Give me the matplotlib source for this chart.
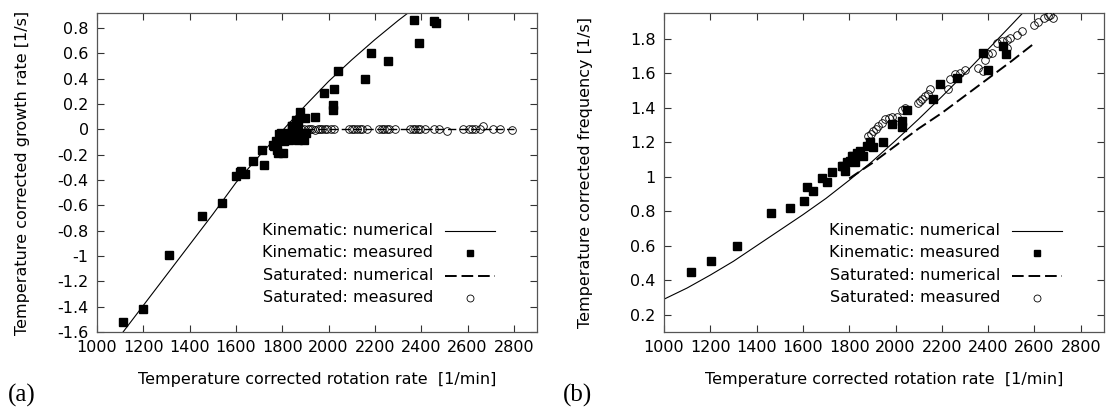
import matplotlib
matplotlib.use("Agg")
import matplotlib.pyplot as plt
import matplotlib.lines as mlines
from matplotlib.ticker import FuncFormatter

plt.rcParams['font.family'] = ['DejaVu Sans']
plt.rcParams['axes.unicode_minus'] = False

# ---------- (a) growth rate ----------
kin_a_num_rpm = [1100, 1200, 1300, 1400, 1500, 1600, 1700, 1800, 1900, 2000, 2100, 2200, 2300, 2400]
kin_a_num_rate = [-1.63, -1.39, -1.15, -0.91, -0.67, -0.42, -0.21, -0.01, 0.19, 0.38, 0.55, 0.71, 0.86, 1.00]

kin_a_rpm = [1110, 1199, 1310, 1455, 1539, 1598, 1618, 1641, 1622, 1672, 1712, 1722, 1758, 1773,
             1775, 1787, 1801, 1794, 1815, 1808, 1837, 1830, 1858, 1851, 1840, 1866, 1880, 1894,
             1901, 1844, 1859, 1876, 1897, 1942, 1980, 2023, 2019, 2019, 2041, 2155, 2184, 2256,
             2370, 2392, 2456, 2464, 1765, 1780, 1823, 1866]
kin_a_rate = [-1.52, -1.42, -0.99, -0.68, -0.58, -0.37, -0.34, -0.355, -0.33, -0.25, -0.165, -0.28,
              -0.12, -0.094, -0.16, -0.04, -0.186, -0.03, -0.055, -0.094, -0.04, -0.08, -0.07, 0.0,
              0.03, 0.045, -0.03, -0.08, -0.03, 0.024, 0.071, 0.141, 0.094, 0.097, 0.285, 0.316,
              0.194, 0.154, 0.46, 0.40, 0.60, 0.54, 0.868, 0.685, 0.855, 0.84, -0.13, -0.186,
              -0.03, -0.08]

sat_a_num_rpm = [1850, 2800]
sat_a_num_rate = [0.0, 0.0]

sat_a_rpm = [1866, 1880, 1895, 1909, 1920, 1930, 1941, 1952, 1962, 1973, 1984, 1995, 2010, 2023,
             2088, 2100, 2109, 2124, 2135, 2145, 2167, 2217, 2230, 2238, 2250, 2260, 2288, 2353,
             2365, 2375, 2386, 2396, 2417, 2453, 2475, 2511, 2582, 2604, 2620, 2633, 2654, 2668,
             2711, 2740, 2790]
sat_a_rate = [0.0, 0.005, 0.0, 0.0, 0.005, 0.0, -0.005, 0.0, 0.0, 0.005, 0.0, 0.0, 0.0, 0.0,
              0.0, 0.005, 0.0, 0.0, 0.0, 0.005, 0.0, 0.0, 0.005, 0.0, 0.0, 0.0, 0.0, 0.0,
              0.005, 0.0, 0.0, 0.0, 0.0, 0.005, 0.0, -0.01, 0.0, 0.0, 0.0, 0.005, 0.0, 0.03,
              0.0, 0.0, -0.005]

# ---------- (b) frequency ----------
kin_b_num_rpm = [1000, 1100, 1200, 1300, 1400, 1500, 1600, 1700, 1800, 1900, 2000, 2100, 2200,
                 2300, 2400, 2500, 2560]
kin_b_num_freq = [0.29, 0.355, 0.43, 0.51, 0.60, 0.69, 0.78, 0.875, 0.98, 1.09, 1.21, 1.335, 1.465,
                  1.60, 1.74, 1.88, 1.965]

sat_b_num_rpm = [1800, 1900, 2000, 2100, 2200, 2300, 2400, 2500, 2600]
sat_b_num_freq = [0.99, 1.08, 1.18, 1.28, 1.37, 1.47, 1.57, 1.67, 1.775]

kin_b_rpm = [1115, 1203, 1314, 1461, 1544, 1605, 1617, 1645, 1681, 1703, 1724, 1768, 1775, 1782,
             1789, 1804, 1811, 1818, 1825, 1833, 1847, 1861, 1876, 1890, 1904, 1947, 1984, 2027,
             2027, 2048, 2163, 2192, 2264, 2377, 2401, 2466, 2476]
kin_b_freq = [0.45, 0.512, 0.598, 0.79, 0.82, 0.86, 0.94, 0.915, 0.994, 0.97, 1.03, 1.065, 1.065,
              1.036, 1.085, 1.094, 1.12, 1.123, 1.085, 1.14, 1.152, 1.123, 1.18, 1.2, 1.17, 1.2,
              1.305, 1.286, 1.325, 1.39, 1.453, 1.536, 1.575, 1.715, 1.62, 1.757, 1.71]

sat_b_rpm = [1883, 1895, 1904, 1915, 1926, 1940, 1955, 1970, 1984, 2005, 2027, 2041, 2099, 2106,
             2113, 2128, 2142, 2149, 2228, 2236, 2257, 2279, 2300, 2357, 2378, 2386, 2401, 2415,
             2437, 2459, 2480, 2480, 2495, 2523, 2545, 2596, 2617, 2639, 2660, 2668, 2682]
sat_b_freq = [1.238, 1.25, 1.267, 1.28, 1.296, 1.31, 1.334, 1.34, 1.344, 1.344, 1.39, 1.40, 1.43,
              1.44, 1.45, 1.47, 1.478, 1.507, 1.507, 1.565, 1.594, 1.603, 1.622, 1.632, 1.613,
              1.68, 1.71, 1.72, 1.776, 1.785, 1.795, 1.747, 1.805, 1.823, 1.843, 1.88, 1.90,
              1.92, 1.93, 1.94, 1.92]

x_ticks = [1000, 1200, 1400, 1600, 1800, 2000, 2200, 2400, 2600, 2800]
ya_ticks = [-1.6, -1.4, -1.2, -1.0, -0.8, -0.6, -0.4, -0.2, 0.0, 0.2, 0.4, 0.6, 0.8]
yb_ticks = [0.2, 0.4, 0.6, 0.8, 1.0, 1.2, 1.4, 1.6, 1.8]

legend_labels = ["Kinematic: numerical", "Kinematic: measured",
                 "Saturated: numerical", "Saturated: measured"]

fs = 11.5
fig = plt.figure(figsize=(11.14, 4.09), dpi=100)
ax_a = fig.add_axes([0.0871, 0.1883, 0.395, 0.780])
ax_b = fig.add_axes([0.596, 0.1883, 0.395, 0.780])

dash = (6, 2.5)


def style_axes(ax, yticks, ylim, ylabel, ylab_x):
    ax.set_xlim(1000, 2900)
    ax.set_ylim(*ylim)
    ax.set_xticks(x_ticks)
    ax.set_yticks(yticks)
    ax.yaxis.set_major_formatter(FuncFormatter(lambda v, p: "%g" % round(v, 2)))
    ax.tick_params(direction='in', top=True, right=True, length=5, width=0.8,
                   labelsize=fs, colors='#333333', labelcolor='black', pad=6)
    for s in ax.spines.values():
        s.set_color('#555555')
        s.set_linewidth(0.9)
    ax.set_xlabel("Temperature corrected rotation rate  [1/min]", fontsize=fs)
    ax.xaxis.set_label_coords(0.5, -0.125)
    ax.set_ylabel(ylabel, fontsize=fs)
    ax.yaxis.set_label_coords(ylab_x, 0.5)


def draw_legend(ax):
    rows = [0.317, 0.248, 0.176, 0.107]
    for lab, y in zip(legend_labels, rows):
        ax.text(0.764, y, lab, transform=ax.transAxes, ha='right', va='center', fontsize=fs)
    ax.add_line(mlines.Line2D([0.791, 0.905], [rows[0], rows[0]], transform=ax.transAxes,
                              color='black', lw=0.8))
    ax.add_line(mlines.Line2D([0.848], [rows[1]], transform=ax.transAxes, marker='s',
                              markersize=5, color='black', linestyle='None'))
    ax.add_line(mlines.Line2D([0.791, 0.905], [rows[2], rows[2]], transform=ax.transAxes,
                              color='black', lw=1.4, dashes=dash))
    ax.add_line(mlines.Line2D([0.848], [rows[3]], transform=ax.transAxes, marker='o',
                              markersize=5, markerfacecolor='white', markeredgecolor='black',
                              markeredgewidth=0.6, linestyle='None'))


# (a)
ax_a.plot(sat_a_num_rpm, sat_a_num_rate, color='black', lw=1.0, dashes=dash, zorder=1)
ax_a.plot(kin_a_num_rpm, kin_a_num_rate, color='black', lw=0.8, zorder=2)
ax_a.plot(sat_a_rpm, sat_a_rate, 'o', markersize=5.5, markerfacecolor='none',
          markeredgecolor='black', markeredgewidth=0.6, zorder=3)
ax_a.plot(kin_a_rpm, kin_a_rate, 's', markersize=5.5, color='black', zorder=4)
style_axes(ax_a, ya_ticks, (-1.6, 0.92), "Temperature corrected growth rate [1/s]", -0.152)
draw_legend(ax_a)

# (b)
ax_b.plot(kin_b_num_rpm, kin_b_num_freq, color='black', lw=0.8, zorder=2)
ax_b.plot(sat_b_num_rpm, sat_b_num_freq, color='black', lw=1.4, dashes=dash, zorder=2)
ax_b.plot(sat_b_rpm, sat_b_freq, 'o', markersize=5.5, markerfacecolor='none',
          markeredgecolor='black', markeredgewidth=0.6, zorder=3)
ax_b.plot(kin_b_rpm, kin_b_freq, 's', markersize=5.5, color='black', zorder=4)
style_axes(ax_b, yb_ticks, (0.1, 1.95), "Temperature corrected frequency [1/s]", -0.161)
draw_legend(ax_b)

fig.text(0.007, 0.018, "(a)", family='Liberation Serif', fontsize=18, va='baseline')
fig.text(0.505, 0.018, "(b)", family='Liberation Serif', fontsize=18, va='baseline')

fig.savefig("out.png", dpi=100)
